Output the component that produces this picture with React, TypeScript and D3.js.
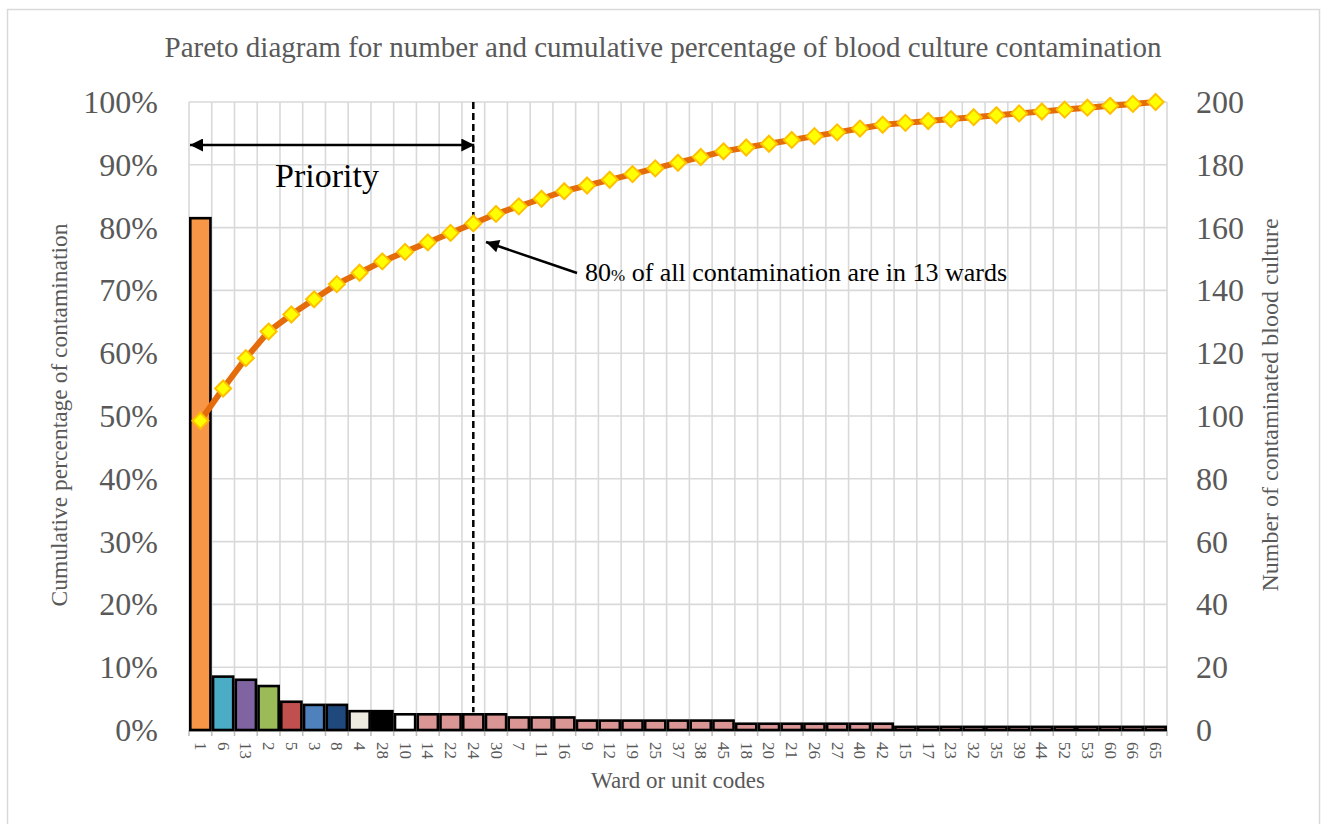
import * as d3 from "d3";
import React from "react";

const wards = [
  "1", "6", "13", "2", "5", "3", "8", "4", "28", "10", "14", "22", "24", "30", "7", "11", "16",
  "9", "12", "19", "25", "37", "38", "45", "18", "20", "21", "26", "27", "40", "42",
  "15", "17", "23", "32", "35", "39", "44", "52", "53", "60", "66", "65",
];
const counts = [
  163, 17, 16, 14, 9, 8, 8, 6, 6, 5, 5, 5, 5, 5, 4, 4, 4,
  3, 3, 3, 3, 3, 3, 3, 2, 2, 2, 2, 2, 2, 2,
  1, 1, 1, 1, 1, 1, 1, 1, 1, 1, 1, 1,
];
const leadColors = ["#F79646", "#4BACC6", "#8064A2", "#9BBB59", "#C0504D", "#4F81BD", "#1F497D", "#EEECE1", "#000000", "#FFFFFF"];
const restColor = "#D99694";
const pctTicks = [0, 0.1, 0.2, 0.3, 0.4, 0.5, 0.6, 0.7, 0.8, 0.9, 1];
const countTicks = [0, 20, 40, 60, 80, 100, 120, 140, 160, 180, 200];
const cutoffWard = "24";

const W = 1322;
const H = 824;
const margin = { top: 102, right: 155, bottom: 94, left: 189 };
const font = "'Liberation Serif', 'Times New Roman', serif";
const grey = "#595959";

export default function App() {
  const innerR = W - margin.right;
  const innerB = H - margin.bottom;

  const x = d3.scaleBand<string>().domain(wards).range([margin.left, innerR]).padding(0);
  const yPct = d3.scaleLinear().domain([0, 1]).range([innerB, margin.top]);
  const yCnt = d3.scaleLinear().domain([0, 200]).range([innerB, margin.top]);

  const total = d3.sum(counts);
  const cum = Array.from(d3.cumsum(counts)).map((c) => c / total);
  const cx = (w: string) => (x(w) ?? 0) + x.bandwidth() / 2;

  const line = d3
    .line<number>()
    .x((_, i) => cx(wards[i]))
    .y((d) => yPct(d));

  const cutX = cx(cutoffWard);
  const cutCount = counts[wards.indexOf(cutoffWard)];

  return (
    <div style={{ position: "absolute", left: 0, top: 0 }}>
      <svg width={W} height={H} style={{ display: "block", fontFamily: font }}>
        <defs>
          <marker id="ah" viewBox="0 0 10 10" refX="10" refY="5" markerUnits="userSpaceOnUse" markerWidth="17" markerHeight="13" orient="auto-start-reverse">
            <path d="M0,0 L10,5 L0,10 Z" fill="#000" />
          </marker>
        </defs>
        <rect x={0} y={0} width={W} height={H} fill="#fff" />
        <rect x={7.5} y={9.5} width={1312} height={830} fill="none" stroke="#d9d9d9" strokeWidth={1.5} />

        <text x={663} y={57} textAnchor="middle" fontSize={29} fill={grey}>
          Pareto diagram for number and cumulative percentage of blood culture contamination
        </text>

        {/* grid */}
        <g stroke="#d9d9d9" strokeWidth={1.6}>
          {pctTicks.map((t) => (
            <line key={"h" + t} x1={margin.left} x2={innerR} y1={yPct(t)} y2={yPct(t)} />
          ))}
          {wards.map((w) => (
            <line key={"v" + w} x1={x(w)! + x.bandwidth()} x2={x(w)! + x.bandwidth()} y1={margin.top} y2={innerB} />
          ))}
          <line x1={margin.left} x2={margin.left} y1={margin.top} y2={innerB} />
        </g>

        {/* x axis with ticks */}
        <g stroke="#bfbfbf" strokeWidth={1.6}>
          <line x1={margin.left} x2={innerR} y1={innerB + 1} y2={innerB + 1} />
          {[...wards.map((w) => x(w)!), innerR].map((v, i) => (
            <line key={"t" + i} x1={v} x2={v} y1={innerB} y2={innerB + 6} />
          ))}
        </g>

        {/* bars */}
        <g stroke="#000" strokeWidth={2.6}>
          {wards.map((w, i) => (
            <rect
              key={"b" + w}
              x={x(w)! + 1.3}
              width={x.bandwidth() - 2.6}
              y={yCnt(counts[i])}
              height={innerB - yCnt(counts[i])}
              fill={leadColors[i] ?? restColor}
            />
          ))}
        </g>

        {/* cut-off line */}
        <line x1={cutX} x2={cutX} y1={margin.top} y2={yCnt(cutCount) - 2} stroke="#000" strokeWidth={2.5} strokeDasharray="7,4" />

        {/* cumulative line */}
        <path d={line(cum) ?? ""} fill="none" stroke="#E46C0A" strokeWidth={6} />
        <g fill="#FFFF00" stroke="#FFC000" strokeWidth={2}>
          {cum.map((p, i) => (
            <path key={"m" + i} transform={`translate(${cx(wards[i])},${yPct(p)})`} d="M0,-8 L8,0 L0,8 L-8,0 Z" />
          ))}
        </g>

        {/* left axis labels */}
        <g fontSize={32} fill={grey} textAnchor="end">
          {pctTicks.map((t) => (
            <text key={"lp" + t} x={158} y={yPct(t)} dominantBaseline="central">
              {Math.round(t * 100)}%
            </text>
          ))}
        </g>
        {/* right axis labels */}
        <g fontSize={32} fill={grey} textAnchor="start">
          {countTicks.map((t) => (
            <text key={"rc" + t} x={1196} y={yCnt(t)} dominantBaseline="central">
              {t}
            </text>
          ))}
        </g>

        {/* x tick labels */}
        <g fontSize={17} fill={grey}>
          {wards.map((w) => (
            <text key={"xl" + w} transform={`translate(${cx(w)},742) rotate(90)`} dominantBaseline="central">
              {w}
            </text>
          ))}
        </g>

        <text x={(margin.left + innerR) / 2} y={788} textAnchor="middle" fontSize={23} fill={grey}>
          Ward or unit codes
        </text>
        <text transform={`translate(67,415) rotate(-90)`} textAnchor="middle" fontSize={23.5} fill={grey}>
          Cumulative percentage of contamination
        </text>
        <text transform={`translate(1278,405) rotate(-90)`} textAnchor="middle" fontSize={24} fill={grey}>
          Number of contaminated blood culture
        </text>

        {/* annotations */}
        <line x1={margin.left + 1} x2={cutX + 1} y1={145} y2={145} stroke="#000" strokeWidth={2.5} markerStart="url(#ah)" markerEnd="url(#ah)" />
        <text x={275} y={187} fontSize={34} fill="#000">
          Priority
        </text>
        <line x1={577} y1={273} x2={486} y2={242} stroke="#000" strokeWidth={2.5} markerEnd="url(#ah)" />
        <text x={585} y={281} fontSize={26} fill="#000">
          80<tspan fontSize={17}>%</tspan> of all contamination are in 13 wards
        </text>
      </svg>
    </div>
  );
}
